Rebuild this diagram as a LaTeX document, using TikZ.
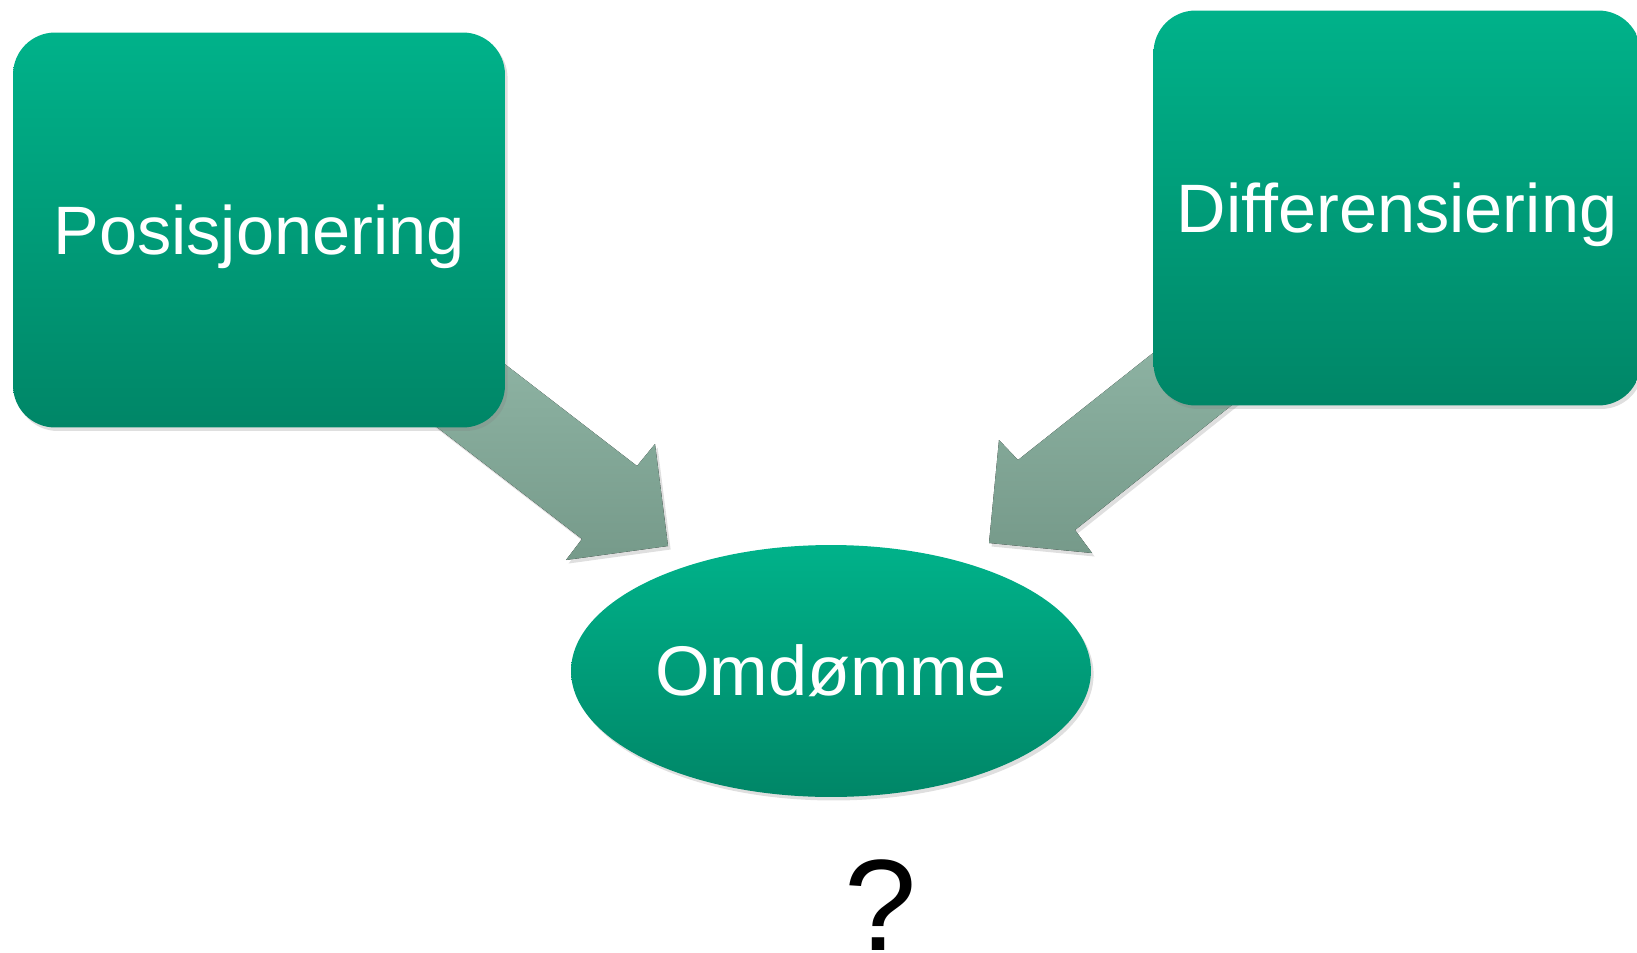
\documentclass[tikz,border=0pt]{standalone}
\usepackage{fontspec}
\setmainfont{Liberation Sans}
\usetikzlibrary{shapes.geometric,shadows}
\definecolor{boxtop}{RGB}{0,178,138}
\definecolor{boxbot}{RGB}{0,134,103}
\definecolor{arrtop}{RGB}{152,190,174}
\definecolor{arrbot}{RGB}{118,154,138}
\tikzset{
  soft/.style={drop shadow={opacity=0.25,shadow xshift=1.5pt,shadow yshift=-2pt}},
  block/.style={rectangle,rounded corners=0.84cm,minimum width=9.84cm,minimum height=7.9cm,
    top color=boxtop,bottom color=boxbot,text=white,soft,text depth=0pt,
    font=\fontsize{39}{46}\selectfont},
  goal/.style={ellipse,minimum width=10.4cm,minimum height=5.04cm,inner sep=0pt,
    top color=boxtop,bottom color=boxbot,text=white,soft,
    font=\fontsize{40}{48}\selectfont},
  fatarrow/.style={top color=arrtop,bottom color=arrbot,soft}
}
\begin{document}
\begin{tikzpicture}[x=0.02cm,y=-0.02cm]
      \useasboundingbox (0,0) rectangle (1637,953);
      %
      \fill[fatarrow] (375,264) -- (506,365) -- (637,466) -- (655,444)
        -- (668,546) -- (566,560) -- (582,539) -- (438,428) -- (307,327) -- cycle;
      \fill[fatarrow] (1288,246) -- (1153,353) -- (1018,460) -- (999,440)
        -- (989,543) -- (1092,553) -- (1075,530) -- (1232,405) -- (1332,325) -- cycle;
      %
      \node[block] (pos) at (259,230) {Posisjonering};
      \node[block,minimum width=9.74cm] (diff) at (1397,208) {Differensiering};
      \node[goal] (omd) at (831,671) {Omdømme};
      \node[anchor=base,inner sep=0pt,text depth=0pt,font=\fontsize{74}{86}\selectfont] (q) at (881,950) {?};
    \end{tikzpicture}
\end{document}
